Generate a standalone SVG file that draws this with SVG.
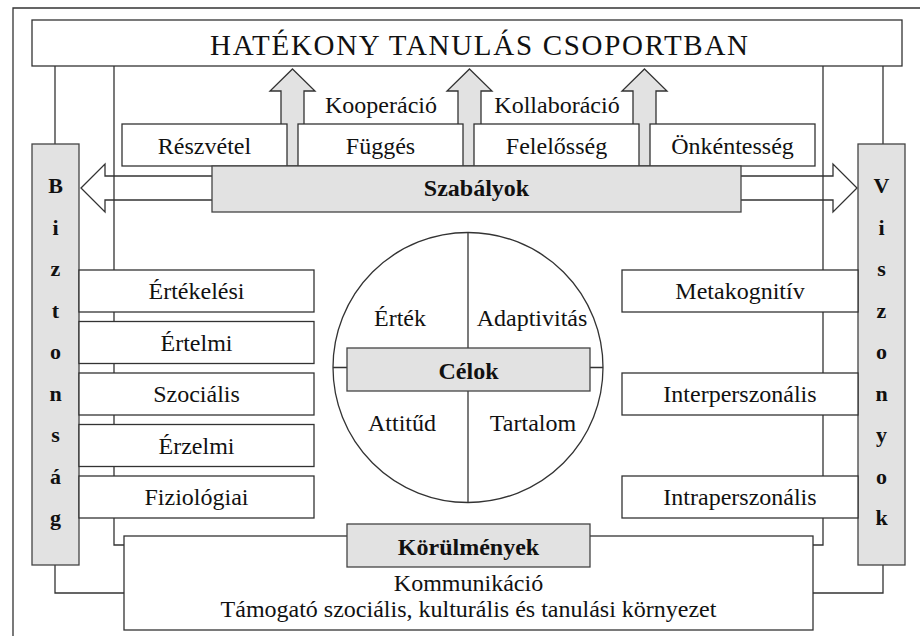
<svg xmlns="http://www.w3.org/2000/svg" width="920" height="636" viewBox="0 0 920 636">
<style>
.ln{fill:none;stroke:#333;stroke-width:1.3}
.bx{fill:#fff;stroke:#333;stroke-width:1.3}
.gb{fill:#e2e2e2;stroke:#444;stroke-width:1.3}
.ar{fill:#e2e2e2;stroke:#333;stroke-width:1.3;stroke-linejoin:miter}
.wa{fill:#fff;stroke:#333;stroke-width:1.3}
.t{font-family:"Liberation Serif","Times New Roman",serif;font-size:24px;fill:#111;text-anchor:middle}
.b{font-family:"Liberation Serif","Times New Roman",serif;font-size:24px;font-weight:bold;fill:#111;text-anchor:middle}
.v{font-family:"Liberation Serif","Times New Roman",serif;font-size:22px;font-weight:bold;fill:#111;text-anchor:middle}
</style>
<rect width="920" height="636" fill="#fff"/>
<path class="ln" d="M13 636 V8 H920"/>

<g id="szabalyok-arrow">
<polygon class="wa" points="81,188 105,164 105,176 833,176 833,164 857,188 833,212 833,200 105,200 105,212"/>
</g>

<g id="connectors">
<path class="ln" d="M55 66 V144"/>
<path class="ln" d="M883 66 V144"/>
<path class="ln" d="M114 66 V545 H124"/>
<path class="ln" d="M823 66 V545 H813"/>
<path class="ln" d="M55 565 V593 H124"/>
<path class="ln" d="M883 565 V593 H813"/>
</g>

<g id="up-arrows">
<polygon class="ar" points="292.5,69 315,91 304,91 304,166 281,166 281,91 270,91"/>
<polygon class="ar" points="469.5,69 492,91 481,91 481,166 458,166 458,91 447,91"/>
<polygon class="ar" points="644.5,69 667,91 656,91 656,166 633,166 633,91 622,91"/>
</g>

<g id="title">
<rect class="bx" x="32" y="20" width="870" height="46"/>
<text x="210" y="55" font-family="Liberation Serif, Times New Roman, serif" font-size="29" fill="#111" textLength="538" lengthAdjust="spacing">HATÉKONY TANULÁS CSOPORTBAN</text>
</g>

<g id="kooperacio"><text class="t" x="381" y="113">Kooperáció</text></g>
<g id="kollaboracio"><text class="t" x="557" y="113">Kollaboráció</text></g>

<g id="reszvetel"><rect class="bx" x="122" y="124" width="165" height="42"/><text class="t" x="204.5" y="154">Részvétel</text></g>
<g id="fugges"><rect class="bx" x="298" y="124" width="165" height="42"/><text class="t" x="380.5" y="154">Függés</text></g>
<g id="felelosseg"><rect class="bx" x="474" y="124" width="165" height="42"/><text class="t" x="556.5" y="154">Felelősség</text></g>
<g id="onkentesseg"><rect class="bx" x="650" y="124" width="165" height="42"/><text class="t" x="732.5" y="154">Önkéntesség</text></g>

<g id="szabalyok"><rect class="gb" x="212" y="166" width="529" height="46"/><text class="b" x="476.5" y="196">Szabályok</text></g>

<g id="biztonsag">
<rect class="gb" x="32" y="144" width="47" height="421"/>
<text class="v" x="55.5" y="193">B</text>
<text class="v" x="55.5" y="234.5">i</text>
<text class="v" x="55.5" y="276">z</text>
<text class="v" x="55.5" y="317.5">t</text>
<text class="v" x="55.5" y="359">o</text>
<text class="v" x="55.5" y="400.5">n</text>
<text class="v" x="55.5" y="442">s</text>
<text class="v" x="55.5" y="483.5">á</text>
<text class="v" x="55.5" y="525">g</text>
</g>

<g id="viszonyok">
<rect class="gb" x="858" y="144" width="47" height="421"/>
<text class="v" x="881.5" y="193">V</text>
<text class="v" x="881.5" y="234.5">i</text>
<text class="v" x="881.5" y="276">s</text>
<text class="v" x="881.5" y="317.5">z</text>
<text class="v" x="881.5" y="359">o</text>
<text class="v" x="881.5" y="400.5">n</text>
<text class="v" x="881.5" y="442">y</text>
<text class="v" x="881.5" y="483.5">o</text>
<text class="v" x="881.5" y="525">k</text>
</g>

<g id="ertekelesi"><rect class="bx" x="79" y="270" width="235" height="42"/><text class="t" x="196.5" y="299">Értékelési</text></g>
<g id="ertelmi"><rect class="bx" x="79" y="321.5" width="235" height="42"/><text class="t" x="196.5" y="350.5">Értelmi</text></g>
<g id="szocialis"><rect class="bx" x="79" y="373" width="235" height="42"/><text class="t" x="196.5" y="402">Szociális</text></g>
<g id="erzelmi"><rect class="bx" x="79" y="424.5" width="235" height="42"/><text class="t" x="196.5" y="453.5">Érzelmi</text></g>
<g id="fiziologiai"><rect class="bx" x="79" y="476" width="235" height="42"/><text class="t" x="196.5" y="505">Fiziológiai</text></g>

<g id="metakognitiv"><rect class="bx" x="622" y="270" width="236" height="42"/><text class="t" x="740" y="299">Metakognitív</text></g>
<g id="interperszonalis"><rect class="bx" x="622" y="373" width="236" height="42"/><text class="t" x="740" y="402">Interperszonális</text></g>
<g id="intraperszonalis"><rect class="bx" x="622" y="476" width="236" height="42"/><text class="t" x="740" y="505">Intraperszonális</text></g>

<g id="celok-circle">
<circle class="ln" cx="468" cy="367.5" r="135"/>
<line class="ln" x1="468" y1="232.5" x2="468" y2="502.5"/>
<line class="ln" x1="333" y1="367.5" x2="603" y2="367.5"/>
<text class="t" x="400" y="326">Érték</text>
<text class="t" x="532" y="326">Adaptivitás</text>
<text class="t" x="402" y="431">Attitűd</text>
<text class="t" x="533" y="431">Tartalom</text>
<rect class="gb" x="347" y="348" width="243" height="43"/>
<text class="b" x="468.5" y="379">Célok</text>
</g>

<g id="korulmenyek">
<rect class="bx" x="124" y="536" width="689" height="94"/>
<rect class="gb" x="347" y="524" width="243" height="43"/>
<text class="b" x="468.5" y="555">Körülmények</text>
<text class="t" x="468.5" y="591">Kommunikáció</text>
<text class="t" x="468.5" y="617">Támogató szociális, kulturális és tanulási környezet</text>
</g>
</svg>
